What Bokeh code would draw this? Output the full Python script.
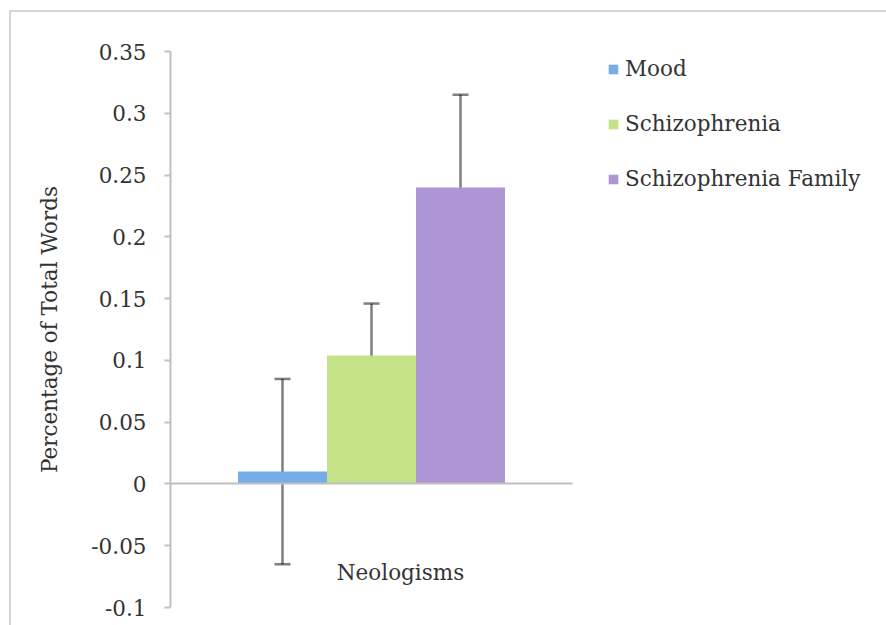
from bokeh.plotting import figure
from bokeh.models import (ColumnDataSource, Legend, LegendItem, FixedTicker,
                          Whisker, TeeHead, Label, Range1d)
from bokeh.embed import file_html
from bokeh.resources import INLINE

# ---- data -------------------------------------------------------------
category = "Neologisms"
groups = ["Mood", "Schizophrenia", "Schizophrenia Family"]
means = [0.01, 0.104, 0.24]
errors = [0.075, 0.042, 0.075]
colors = ["#74ade8", "#c4e287", "#ae95d3"]
y_ticks = [-0.1, -0.05, 0, 0.05, 0.1, 0.15, 0.2, 0.25, 0.3, 0.35]
y_tick_labels = ["-0.1", "-0.05", "0", "0.05", "0.1", "0.15", "0.2", "0.25", "0.3", "0.35"]
y_title = "Percentage of Total Words"

FONT = "DejaVu Serif"
FS = "21.5px"
TXT = "#333333"
AXC = "#bfbfbf"
FRAME = "#d6d6d6"

# category slot spans [0, 1] on the x scale; the frame continues to the right for the legend
p = figure(width=886, height=625, output_backend="svg", toolbar_location=None,
           x_range=Range1d(0, 716 / 402),
           y_range=Range1d(y_ticks[0], y_ticks[-1]),
           min_border_left=170, min_border_right=0, min_border_top=51,
           min_border_bottom=18)
p.border_fill_color = None
p.background_fill_color = "white"
p.styles = {"background": (
    f"linear-gradient({FRAME},{FRAME}) 9px 10px / 100% 2px no-repeat, "
    f"linear-gradient({FRAME},{FRAME}) 9px 10px / 2px 100% no-repeat, #ffffff")}
p.outline_line_color = None
p.grid.visible = False

bar_w = 0.2214
group_center = 0.5
renderers = []
for i, (g, m, e, c) in enumerate(zip(groups, means, errors, colors)):
    xc = group_center + (i - 1) * bar_w
    src = ColumnDataSource(dict(x=[xc], top=[m], upper=[m + e], lower=[m - e]))
    r = p.vbar(x="x", top="top", bottom=0, width=bar_w,
               source=src, fill_color=c, line_color=None)
    renderers.append(r)
    w = Whisker(base="x", upper="upper", lower="lower",
                source=src, dimension="height", line_color="black", line_alpha=0.5,
                line_width=2.5,
                upper_head=TeeHead(size=16, line_color="black", line_alpha=0.5, line_width=2.5),
                lower_head=TeeHead(size=16, line_color="black", line_alpha=0.5, line_width=2.5))
    p.add_layout(w)

# horizontal (category) axis drawn through zero, spanning the category slot
xa = p.xaxis[0]
xa.fixed_location = 0
xa.bounds = (0, 1)
xa.ticker = FixedTicker(ticks=[])
xa.axis_line_color = AXC
xa.axis_line_width = 2
xa.major_tick_line_color = None
xa.minor_tick_line_color = None
xa.major_label_text_font_size = "0px"

ax = p.yaxis[0]
ax.ticker = FixedTicker(ticks=y_ticks)
ax.major_label_overrides = {t: l for t, l in zip(y_ticks, y_tick_labels)}
ax.axis_line_color = AXC
ax.axis_line_width = 2
ax.major_tick_line_color = AXC
ax.major_tick_line_width = 2
ax.major_tick_out = 6
ax.major_tick_in = 0
ax.minor_tick_line_color = None
ax.major_label_text_font = FONT
ax.major_label_text_font_size = FS
ax.major_label_text_color = TXT
ax.major_label_standoff = 18
ax.axis_label = y_title
ax.axis_label_text_font = FONT
ax.axis_label_text_font_size = FS
ax.axis_label_text_font_style = "normal"
ax.axis_label_text_color = TXT
ax.axis_label_standoff = 26

p.add_layout(Label(x=group_center, y=-0.072, x_offset=29, text=category, text_align="center",
                   text_baseline="middle", text_font=FONT, text_font_size=FS,
                   text_color=TXT))

legend = Legend(items=[LegendItem(label=g, renderers=[r]) for g, r in zip(groups, renderers)],
                location=(437, 416), border_line_color=None, background_fill_alpha=0,
                glyph_width=12, glyph_height=12, label_standoff=6, spacing=30,
                padding=0, margin=0, label_text_font=FONT, label_text_font_size=FS,
                label_text_color=TXT)
p.add_layout(legend)

open("out.html", "w").write(file_html(p, INLINE))
